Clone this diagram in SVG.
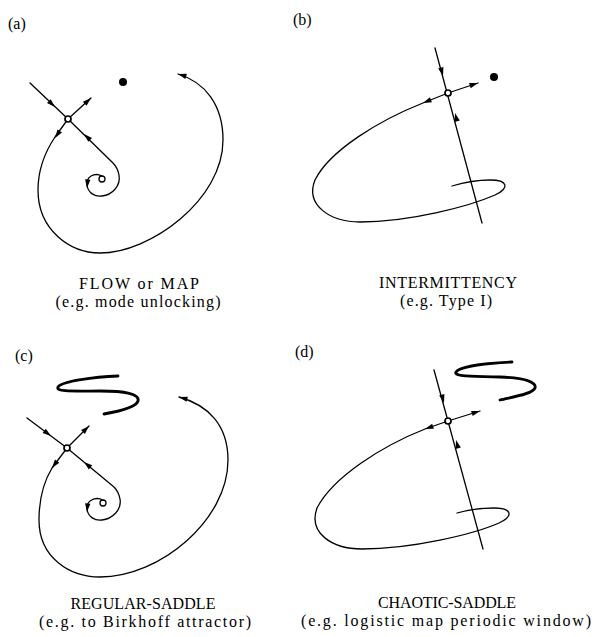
<svg xmlns="http://www.w3.org/2000/svg" xmlns:xlink="http://www.w3.org/1999/xlink" width="595" height="637" viewBox="0 0 595 637">
<style>
  .ln{fill:none;stroke:#000;stroke-width:1.3;stroke-linecap:round;stroke-linejoin:round}
  .thick{fill:none;stroke:#000;stroke-width:2.8;stroke-linecap:round}
  .sad{fill:#fff;stroke:#000;stroke-width:1.7}
  .dot{fill:#000}
  .ah{fill:#000}
  text{font-family:"Liberation Serif","Times New Roman",serif;fill:#000}
  .lab{font-size:16px}
  .cap{font-size:16px;text-anchor:middle}
</style>
<defs>
  <path id="ah" d="M0,0 L-8.5,-2.7 L-8.5,2.7 Z"/>
</defs>
<rect width="595" height="637" fill="#fff"/>

<g id="panel-a">
  <text class="lab" x="8" y="29">(a)</text>
  <g id="a-connectors">
    <path class="ln" d="M30,83 L68,119"/>
    <path class="ln" d="M68,119 L91,98"/>
    <path class="ln" d="M68,119 L55,137 C45,152 38,170 38,190 C38,230 70,253 100,253 C150,253 223,200 223,140 C223,105 205,82 178,74"/>
    <path class="ln" d="M102,176 C94,172 86,177 87,185 C88,193 95,197 102,196 C112,195 121,186 119,175 C118,170 116,166 113,163 L68,119"/>
    <g class="ah">
      <use xlink:href="#ah" transform="translate(55,107) rotate(43.5)"/>
      <use xlink:href="#ah" transform="translate(91,98) rotate(-42.4)"/>
      <use xlink:href="#ah" transform="translate(55,138) rotate(124)"/>
      <use xlink:href="#ah" transform="translate(84,134) rotate(-136.3)"/>
      <use xlink:href="#ah" transform="translate(87,188) rotate(95)"/>
      <use xlink:href="#ah" transform="translate(178,74) rotate(-163.5)"/>
    </g>
  </g>
  <circle id="a-focus" class="ln" cx="102" cy="179" r="3"/>
  <circle id="a-saddle" class="sad" cx="68" cy="119" r="3"/>
  <circle id="a-dot" class="dot" cx="123" cy="82" r="4"/>
  <text class="cap" x="139" y="289" textLength="120" lengthAdjust="spacing">FLOW or MAP</text>
  <text class="cap" x="138" y="307" textLength="165" lengthAdjust="spacing">(e.g. mode unlocking)</text>
</g>

<g id="panel-b">
  <text class="lab" x="293" y="25">(b)</text>
  <g id="b-connectors">
    <path class="ln" d="M435,48 L482,223"/>
    <path class="ln" d="M448,93 L478,83"/>
    <path class="ln" d="M448,93 L423,103 C380,120 330,150 315,180 C305,205 330,222 360,222 C410,222 470,206 495,195 C510,188 508,180 490,180 C475,180 462,183 452,186"/>
    <g class="ah">
      <use xlink:href="#ah" transform="translate(443,76) rotate(75)"/>
      <use xlink:href="#ah" transform="translate(455,113) rotate(-105)"/>
      <use xlink:href="#ah" transform="translate(478,83) rotate(-17.8)"/>
      <use xlink:href="#ah" transform="translate(423,103) rotate(158)"/>
    </g>
  </g>
  <circle id="b-saddle" class="sad" cx="448" cy="93" r="3"/>
  <circle id="b-dot" class="dot" cx="494" cy="77" r="4"/>
  <text class="cap" x="448" y="288" textLength="138" lengthAdjust="spacing">INTERMITTENCY</text>
  <text class="cap" x="446" y="306" textLength="92" lengthAdjust="spacing">(e.g. Type I)</text>
</g>

<g id="panel-c">
  <text class="lab" x="15" y="361">(c)</text>
  <path id="c-chaotic-set" class="thick" d="M118,376 C95,377 62,381 58,387 C55,392 75,391 100,391 C125,391 140,394 138,401 C136,408 115,412 104,414"/>
  <g id="c-connectors">
    <path class="ln" d="M27,418 L67,448"/>
    <path class="ln" d="M67,448 L89,426"/>
    <path class="ln" d="M67,448 L52,468 C43,483 39,500 39,520 C39,558 70,577 100,577 C160,577 228,520 228,460 C228,425 208,405 179,397"/>
    <path class="ln" d="M103,500 C95,496 86,501 87,509 C88,517 95,521 102,520 C112,519 122,510 120,499 C119,494 117,490 114,487 L67,448"/>
    <g class="ah">
      <use xlink:href="#ah" transform="translate(51,436) rotate(36.9)"/>
      <use xlink:href="#ah" transform="translate(89,426) rotate(-45)"/>
      <use xlink:href="#ah" transform="translate(52,468) rotate(126.9)"/>
      <use xlink:href="#ah" transform="translate(84,462) rotate(-140.3)"/>
      <use xlink:href="#ah" transform="translate(87,512) rotate(95)"/>
      <use xlink:href="#ah" transform="translate(179,397) rotate(-164.6)"/>
    </g>
  </g>
  <circle id="c-focus" class="ln" cx="103" cy="503" r="3"/>
  <circle id="c-saddle" class="sad" cx="67" cy="448" r="3"/>
  <text class="cap" x="143" y="609" textLength="145" lengthAdjust="spacing">REGULAR-SADDLE</text>
  <text class="cap" x="145" y="627" textLength="212" lengthAdjust="spacing">(e.g. to Birkhoff attractor)</text>
</g>

<g id="panel-d">
  <text class="lab" x="295" y="357">(d)</text>
  <path id="d-chaotic-set" class="thick" d="M512,362 C490,363 460,366 456,372 C453,377 475,376 500,377 C525,378 537,382 535,388 C533,394 512,397 500,400"/>
  <g id="d-connectors">
    <path class="ln" d="M434,370 L483,549"/>
    <path class="ln" d="M448,421 L480,411"/>
    <path class="ln" d="M448,421 L425,429 C382,446 333,477 317,508 C308,533 332,549 362,549 C412,549 474,534 499,523 C514,516 512,508 494,508 C478,508 467,510 457,513"/>
    <g class="ah">
      <use xlink:href="#ah" transform="translate(444,403) rotate(74.7)"/>
      <use xlink:href="#ah" transform="translate(456,440) rotate(-105.3)"/>
      <use xlink:href="#ah" transform="translate(480,411) rotate(-17.4)"/>
      <use xlink:href="#ah" transform="translate(425,429) rotate(160.8)"/>
    </g>
  </g>
  <circle id="d-saddle" class="sad" cx="448" cy="421" r="3"/>
  <text class="cap" x="447" y="608" textLength="138" lengthAdjust="spacing">CHAOTIC-SADDLE</text>
  <text class="cap" x="446" y="626" textLength="290" lengthAdjust="spacing">(e.g. logistic map periodic window)</text>
</g>
</svg>
